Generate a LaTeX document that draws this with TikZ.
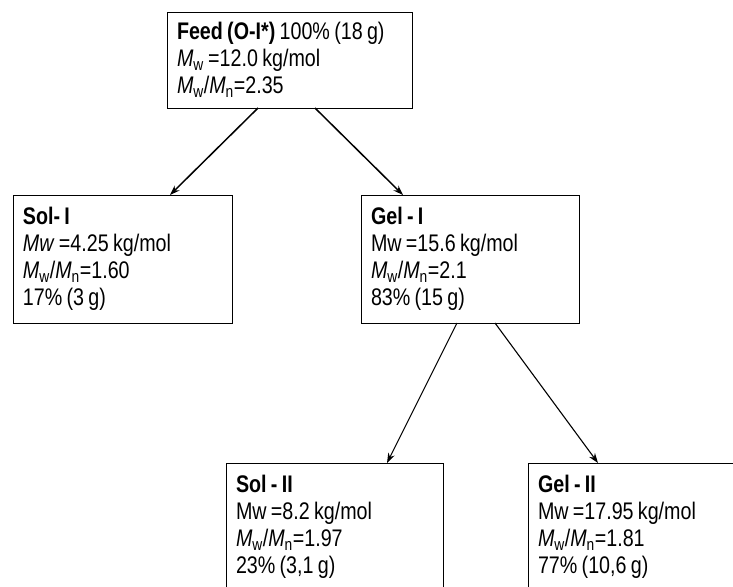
\documentclass[tikz,border=0pt]{standalone}
\usepackage{fontspec}
\setmainfont{Liberation Sans}[FakeStretch=0.82]
\usetikzlibrary{arrows.meta}
\newcommand{\mw}{{\itshape M}\textsubscript{w}}
\newcommand{\mn}{{\itshape M}\textsubscript{n}}
\newcommand{\tightsp}{\spaceskip=0.18em\relax}

\begin{document}
\begin{tikzpicture}[x=1pt,y=-1pt,
        frac/.style={draw, line width=0.8pt, anchor=north west, align=left,
            inner xsep=10pt, outer sep=0pt, font=\fontsize{24}{27}\selectfont,
            execute at begin node=\tightsp},
        flow/.style={-{Stealth[length=10pt,width=7pt]}, line width=1.5pt}]
            \useasboundingbox (0,0) rectangle (733,586);
            \clip (0,0) rectangle (733,586);
            
            \node[frac, text width=225pt, minimum height=96pt] (feed) at (167,12)
                {\textbf{Feed (O-I*)} 100\% (18 g)\\
                 \mw\ =12.0 kg/mol\\
                 \mw/\mn=2.35};
            
            \node[frac, text width=199pt, minimum height=128pt] (solI) at (13,195)
                {\textbf{Sol- I}\\
                 \textit{Mw} =4.25 kg/mol\\
                 \mw/\mn=1.60\\
                 17\% (3 g)};
            \node[frac, text width=198pt, minimum height=128pt] (gelI) at (361,195)
                {\textbf{Gel - I}\\
                 Mw =15.6 kg/mol\\
                 \mw/\mn=2.1\\
                 83\% (15 g)};
            
            \node[frac, text width=197pt, minimum height=128pt] (solII) at (226,463)
                {\textbf{Sol - II}\\
                 Mw =8.2 kg/mol\\
                 \mw/\mn=1.97\\
                 23\% (3,1 g)};
            \node[frac, text width=198pt, minimum height=128pt] (gelII) at (528,463)
                {\textbf{Gel - II}\\
                 Mw =17.95 kg/mol\\
                 \mw/\mn=1.81\\
                 77\% (10,6 g)};
            
            % feed splits into sol and gel
            \draw[flow] ([xshift=91pt]feed.south west) -- ([xshift=157pt]solI.north west);
            \draw[flow] ([xshift=148pt]feed.south west) -- ([xshift=42pt]gelI.north west);
            \draw[flow, line width=1.1pt] ([xshift=96pt]gelI.south west) -- ([xshift=161pt]solII.north west);
            \draw[flow, line width=1.1pt] ([xshift=134pt]gelI.south west) -- ([xshift=70pt]gelII.north west);
            
            \end{tikzpicture}
\end{document}
